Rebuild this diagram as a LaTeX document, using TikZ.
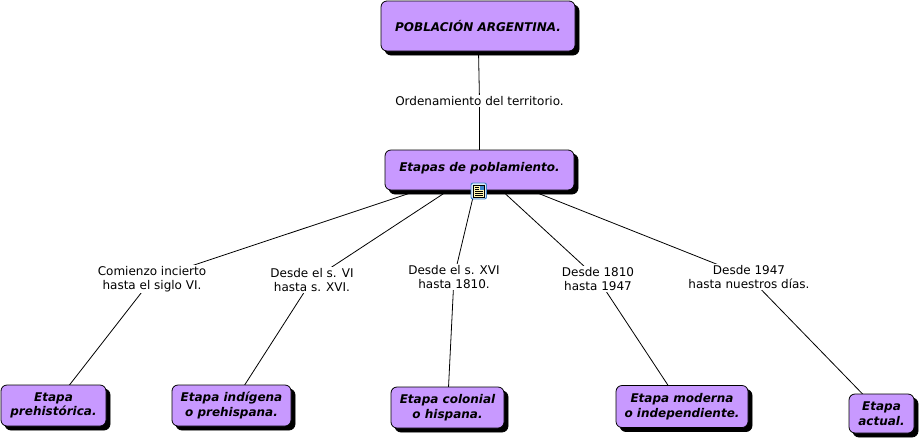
\documentclass[tikz,border=0pt]{standalone}
\usepackage{fontspec}
\setmainfont{DejaVu Sans}
\usetikzlibrary{shadows,backgrounds}
\definecolor{boxpurple}{HTML}{C899FF}
\definecolor{iconblue}{HTML}{3C82C8}
\definecolor{iconback}{HTML}{D8E8F8}
\definecolor{iconpage}{HTML}{FFF6B0}
\tikzset{
  concept/.style={draw=black,fill=boxpurple,rounded corners=6pt,line width=0.8pt,align=center,
    font=\fontsize{12}{14.5}\selectfont\bfseries\itshape,minimum height=38pt,inner sep=0pt,
    copy shadow={shadow xshift=4pt,shadow yshift=-4pt,fill=black,draw=black}},
  linking/.style={fill=white,align=center,inner sep=1pt,font=\fontsize{12}{14.5}\selectfont},
  link/.style={draw=black,line width=0.8pt}
}
\begin{document}
\begin{tikzpicture}[x=1pt,y=-1pt]
\useasboundingbox (0,0) rectangle (920,440);
\node [concept,minimum width=194pt,minimum height=50pt] (poblacion) at (478,26) {POBLACIÓN ARGENTINA.};
\node [concept,minimum width=189pt,minimum height=40pt] (etapas) at (479.5,170) {\raisebox{6pt}{Etapas de poblamiento.}};
\node [concept,minimum width=105pt,minimum height=41pt] (prehistorica) at (53.5,405.5) {Etapa\\prehistórica.};
\node [concept,minimum width=119pt,minimum height=41pt] (indigena) at (231.5,405.5) {Etapa indígena\\o prehispana.};
\node [concept,minimum width=113pt,minimum height=41pt] (colonial) at (447.5,407.5) {Etapa colonial\\o hispana.};
\node [concept,minimum width=132pt,minimum height=42pt] (moderna) at (682,406.5) {Etapa moderna\\o independiente.};
\node [concept,minimum width=65pt,minimum height=39pt] (actual) at (881.5,413.5) {Etapa\\actual.};
\node [linking] (ordenamiento) at (479.5,101) {Ordenamiento del territorio.};
\node [linking] (comienzo) at (152,279) {Comienzo incierto\\hasta el siglo VI.};
\node [linking] (desdeVI) at (312,280) {Desde el s. VI\\hasta s. XVI.};
\node [linking] (desdeXVI) at (454,277) {Desde el s. XVI\\hasta 1810.};
\node [linking] (desde1810) at (598,279) {Desde 1810\\hasta 1947};
\node [linking] (desde1947) at (749,277) {Desde 1947\\hasta nuestros días.};
\begin{pgfonlayer}{background}
\draw [link] (poblacion.center) -- (ordenamiento.center);
\draw [link] (ordenamiento.center) -- (etapas.center);
\draw [link] (etapas.center) -- (comienzo.center);
\draw [link] (comienzo.center) -- (prehistorica.center);
\draw [link] (etapas.center) -- (desdeVI.center);
\draw [link] (desdeVI.center) -- (indigena.center);
\draw [link] (etapas.center) -- (desdeXVI.center);
\draw [link] (desdeXVI.center) -- (colonial.center);
\draw [link] (etapas.center) -- (desde1810.center);
\draw [link] (desde1810.center) -- (moderna.center);
\draw [link] (etapas.center) -- (desde1947.center);
\draw [link] (desde1947.center) -- (actual.center);
\end{pgfonlayer}
\draw [iconblue,fill=iconback,rounded corners=2pt,line width=0.9pt] (471,183) rectangle (486.5,199);
\fill [iconpage,draw=black,line width=0.4pt] (473.5,185) rectangle (484,197);
\fill [black] (475,186.5) rectangle (478.5,187.5);
\fill [black] (475,188.5) rectangle (478.5,189.5);
\fill [black] (475,190.5) rectangle (482.5,191.5);
\fill [black] (475,192.5) rectangle (482.5,193.5);
\fill [black] (475,194.5) rectangle (482.5,195.5);
\fill [iconblue] (479.5,185.5) rectangle (484,190);
\end{tikzpicture}
\end{document}
